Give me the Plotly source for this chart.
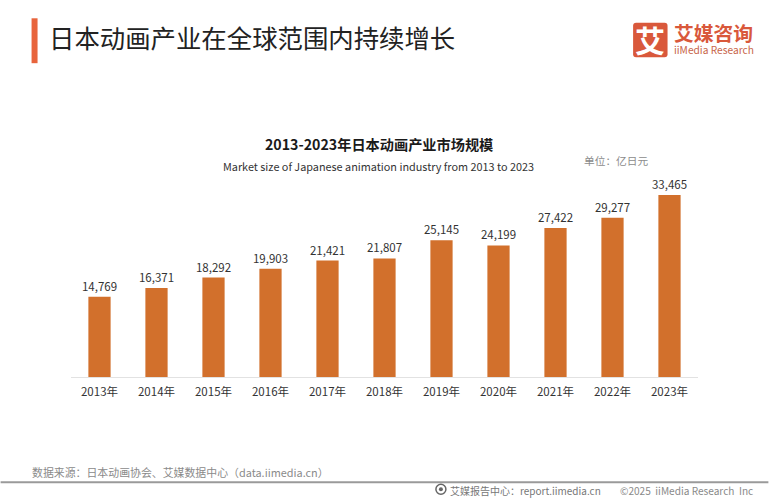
import plotly.graph_objects as go

years = ['2013年', '2014年', '2015年', '2016年', '2017年', '2018年',
         '2019年', '2020年', '2021年', '2022年', '2023年']
market_size = [14769, 16371, 18292, 19903, 21421, 21807,
               25145, 24199, 27422, 29277, 33465]

W, H = 769, 500
L, R, T, B = 70.5, 698.5, 150, 377.5
CJK = 'Noto Sans CJK SC'

# page pixels -> paper coords, so the header and footer can sit outside the plot
def px(x):
    return (x - L) / (R - L)

def py(y):
    return (B - y) / (B - T)

def note(x, y, text, size, color, anchor='left', font=CJK):
    return dict(x=px(x), y=py(y), xref='paper', yref='paper', text=text,
                showarrow=False, xanchor=anchor, yanchor='middle',
                font=dict(family=font, size=size, color=color))

def box(x0, y0, x1, y1, color, kind='rect'):
    return dict(type=kind, xref='paper', yref='paper', x0=px(x0), x1=px(x1),
                y0=py(y0), y1=py(y1), fillcolor=color, line_width=0, layer='below')

# logo tile has rounded corners, so it needs a path
def rounded(x0, y0, x1, y1, r, color):
    path = (f'M {px(x0 + r)} {py(y0)} L {px(x1 - r)} {py(y0)} '
            f'Q {px(x1)} {py(y0)} {px(x1)} {py(y0 + r)} L {px(x1)} {py(y1 - r)} '
            f'Q {px(x1)} {py(y1)} {px(x1 - r)} {py(y1)} L {px(x0 + r)} {py(y1)} '
            f'Q {px(x0)} {py(y1)} {px(x0)} {py(y1 - r)} L {px(x0)} {py(y0 + r)} '
            f'Q {px(x0)} {py(y0)} {px(x0 + r)} {py(y0)} Z')
    return dict(type='path', xref='paper', yref='paper', path=path,
                fillcolor=color, line_width=0, layer='below')

fig = go.Figure(go.Bar(
    x=years, y=market_size,
    marker=dict(color='#D2702C', line_width=0),
    width=0.39,
    text=[f'{v:,}' for v in market_size],
    textposition='outside', cliponaxis=False, constraintext='none',
    textfont=dict(family=CJK, size=11.5, color='#333333'),
))

ring = box(436, 485, 446, 495, 'white', 'circle')
ring['line'] = dict(color='#666666', width=1.5)
ring.pop('line_width')

fig.update_layout(
    width=W, height=H, autosize=False,
    margin=dict(l=L, r=W - R, t=T, b=H - B, pad=0),
    paper_bgcolor='white', plot_bgcolor='white',
    showlegend=False, bargap=0.6,
    font=dict(family=CJK),
    shapes=[
        box(31, 18, 37, 63, '#E8643C'),
        rounded(633.5, 22.5, 668, 57, 3, '#D9583B'),
        box(0, 482, W, 484, '#9A9A9A'),
        ring,
        box(439, 488, 443, 492, '#666666', 'circle'),
    ],
    annotations=[
        note(46, 37, '日本动画产业在全球范围内持续增长', 25.4, '#222222'),
        note(650.7, 39, '<b>艾</b>', 30, '#FFFFFF', 'center'),
        note(672, 32, '<b>艾媒咨询</b>', 19.8, '#D9583B'),
        note(672, 49.5, 'iiMedia Research', 10.2, '#C8654A'),
        note(378.5, 144, '<b>2013-2023年日本动画产业市场规模</b>', 14.2, '#1A1A1A', 'center'),
        note(378, 166, 'Market size of Japanese animation industry from 2013 to 2023', 10.85, '#333333', 'center'),
        note(582, 161, '单位：亿日元', 10.7, '#8C8C8C'),
        note(29, 473, '数据来源：日本动画协会、艾媒数据中心（data.iimedia.cn）', 10.9, '#8A8A8A'),
        note(448, 491.5, '艾媒报告中心：report.iimedia.cn', 10, '#777777'),
        note(618, 491.5, '©2025  iiMedia Research  Inc', 10.1, '#8A8A8A'),
    ],
)
fig.update_xaxes(type='category', showgrid=False, ticks='', showline=True,
                 linecolor='#E2E2E2', linewidth=1, ticklabelstandoff=4,
                 tickfont=dict(family=CJK, size=11.5, color='#333333'))
fig.update_yaxes(range=[0, 41743], visible=False, showgrid=False, zeroline=False)

# page default body margin would push everything 8px down and right
fig.write_html("out.html", config={'displayModeBar': False},
               post_script="document.body.style.margin='0';")
